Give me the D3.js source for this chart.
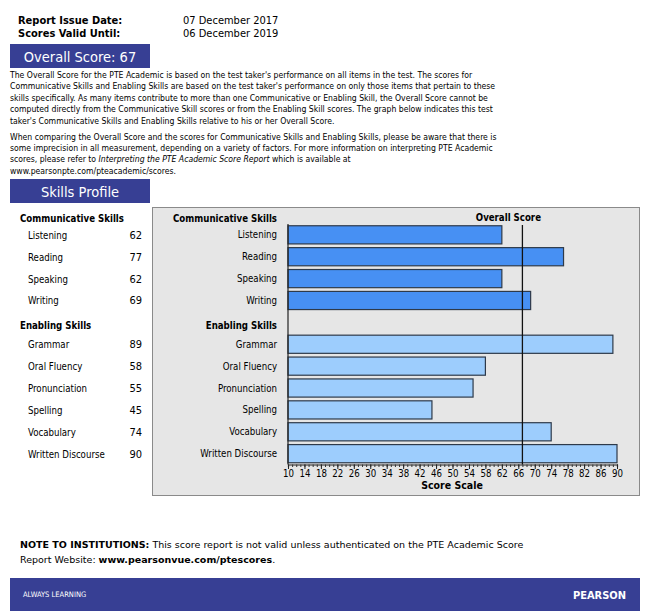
<!DOCTYPE html>
<html>
<head>
<meta charset="utf-8">
<script src="https://cdn.jsdelivr.net/npm/d3@7"></script>
<style>
  body { margin: 0; background: #fff; }
  svg { display: block; }
  text { font-family: "DejaVu Sans Condensed", "DejaVu Sans", sans-serif; fill: #000; }
  .verd { font-family: "DejaVu Sans", Verdana, sans-serif; }
</style>
</head>
<body>
<svg id="page" width="645" height="611"></svg>
<script>
// ---- data ----
var commSkills = ["Listening", "Reading", "Speaking", "Writing"];
var commScores = [62, 77, 62, 69];
var enabSkills = ["Grammar", "Oral Fluency", "Pronunciation", "Spelling", "Vocabulary", "Written Discourse"];
var enabScores = [89, 58, 55, 45, 74, 90];
var overallScore = 67;
var scaleTicks = [10, 14, 18, 22, 26, 30, 34, 38, 42, 46, 50, 54, 58, 62, 66, 70, 74, 78, 82, 86, 90];

var para1 = [
    "The Overall Score for the PTE Academic is based on the test taker's performance on all items in the test.  The scores for",
    "Communicative Skills and Enabling Skills are based on the test taker's performance on only those items that pertain to these",
    "skills specifically.  As many items contribute to more than one Communicative or Enabling Skill, the Overall Score cannot be",
    "computed directly from the Communicative Skill scores or from the Enabling Skill scores.  The graph below indicates this test",
    "taker's Communicative Skills and Enabling Skills relative to his or her Overall Score."
];
var para2 = [
    "When comparing the Overall Score and the scores for Communicative Skills and Enabling Skills, please be aware that there is",
    "some imprecision in all measurement, depending on a variety of factors.  For more information on interpreting PTE Academic",
    null,
    "www.pearsonpte.com/pteacademic/scores."
];

var navy = "#373f94";
var svg = d3.select("#page");

// ---- header ----
svg.append("text").attr("x", 18).attr("y", 24)
    .attr("font-size", "11px").attr("font-weight", "bold").text("Report Issue Date:");
svg.append("text").attr("x", 18).attr("y", 37)
    .attr("font-size", "11px").attr("font-weight", "bold").text("Scores Valid Until:");
svg.append("text").attr("x", 183).attr("y", 24)
    .attr("font-size", "11px").text("07 December 2017");
svg.append("text").attr("x", 183).attr("y", 37)
    .attr("font-size", "11px").text("06 December 2019");

function titleBox(y, label) {
    svg.append("rect").attr("x", 10).attr("y", y).attr("width", 140).attr("height", 24).attr("fill", navy);
    svg.append("text").attr("x", 80).attr("y", y + 18).attr("text-anchor", "middle")
        .attr("font-size", "14.5px").style("fill", "#fff").text(label);
}
titleBox(44, "Overall Score: " + overallScore);
titleBox(179, "Skills Profile");

// ---- paragraphs ----
var pg = svg.append("g").attr("font-size", "8.6px");
para1.forEach(function (s, i) {
    pg.append("text").attr("x", 10).attr("y", 78 + i * 11.4).text(s);
});
para2.forEach(function (s, i) {
    var t = pg.append("text").attr("x", 10).attr("y", 140 + i * 11.2);
    if (s) t.text(s);
    else {
        t.append("tspan").text("scores, please refer to ");
        t.append("tspan").attr("font-style", "italic").text("Interpreting the PTE Academic Score Report");
        t.append("tspan").text(" which is available at");
    }
});

// ---- rows ----
var rows = commSkills.map(function (d, i) { return { name: d, score: commScores[i], comm: true }; })
    .concat([{ name: "__gap", score: null }])
    .concat(enabSkills.map(function (d, i) { return { name: d, score: enabScores[i], comm: false }; }));

var y = d3.scaleBand().domain(rows.map(function (d) { return d.name; }))
    .range([224, 464.5]).paddingInner(0.17).paddingOuter(0.08);
var x = d3.scaleLinear().domain([10, 90]).range([288, 617]);

var data = rows.filter(function (d) { return d.score != null; });
function rowMid(d) { return y(d.name) + y.bandwidth() / 2; }

// ---- left score table ----
var lt = svg.append("g").attr("font-size", "9.6px");
lt.append("text").attr("x", 20).attr("y", 222).attr("font-weight", "bold").text("Communicative Skills");
lt.append("text").attr("x", 20).attr("y", 329).attr("font-weight", "bold").text("Enabling Skills");
lt.selectAll("text.lname").data(data).enter().append("text").attr("class", "lname")
    .attr("x", 28).attr("y", function (d) { return rowMid(d) + 4; })
    .text(function (d) { return d.name; });
lt.selectAll("text.lval").data(data).enter().append("text").attr("class", "lval")
    .attr("x", 142).attr("y", function (d) { return rowMid(d) + 4; })
    .attr("text-anchor", "end").attr("font-family", "'Liberation Sans', Arial, sans-serif")
    .attr("font-size", "11px")
    .text(function (d) { return d.score; });

// ---- chart panel ----
svg.append("rect").attr("x", 152.5).attr("y", 207.5).attr("width", 487).attr("height", 288)
    .attr("fill", "#e6e6e6").attr("stroke", "#8a8a8a");

var ch = svg.append("g").attr("font-size", "9.6px");
ch.append("text").attr("x", 277).attr("y", 222).attr("text-anchor", "end").attr("font-weight", "bold")
    .text("Communicative Skills");
ch.append("text").attr("x", 277).attr("y", 329).attr("text-anchor", "end").attr("font-weight", "bold")
    .text("Enabling Skills");
ch.selectAll("text.cname").data(data).enter().append("text").attr("class", "cname")
    .attr("x", 277).attr("y", function (d) { return rowMid(d) + 3.5; })
    .attr("text-anchor", "end").text(function (d) { return d.name; });

ch.selectAll("rect.bar").data(data).enter().append("rect").attr("class", "bar")
    .attr("x", x(10)).attr("y", function (d) { return y(d.name); })
    .attr("width", function (d) { return x(d.score) - x(10); })
    .attr("height", y.bandwidth())
    .attr("fill", function (d) { return d.comm ? "#4790f3" : "#9dcdfd"; })
    .attr("stroke", "#2e3a4a").attr("stroke-width", 1.2);

// vertical axis line
ch.append("line").attr("x1", x(10)).attr("x2", x(10)).attr("y1", 224).attr("y2", 464.5)
    .attr("stroke", "#222").attr("stroke-width", 1.2);

// x axis with minor ticks
var axisY = 464.5;
var minor = d3.range(10, 91);
ch.append("g").attr("transform", "translate(0," + axisY + ")")
    .call(d3.axisBottom(x).tickValues(minor).tickSize(2.5).tickFormat(""))
    .call(function (g) {
        g.select(".domain").attr("stroke", "#222").attr("stroke-width", 1.2);
        g.selectAll(".tick line").attr("stroke", "#333");
    });
ch.append("g").attr("transform", "translate(0," + axisY + ")")
    .call(d3.axisBottom(x).tickValues(scaleTicks).tickSize(4.5).tickPadding(1.5))
    .call(function (g) {
        g.select(".domain").remove();
        g.selectAll(".tick line").attr("stroke", "#222");
        g.selectAll(".tick text").attr("font-family", "'Liberation Sans', Arial, sans-serif")
            .attr("font-size", "9.6px").style("fill", "#000");
    });
ch.append("text").attr("x", 452).attr("y", 489).attr("text-anchor", "middle")
    .attr("font-weight", "bold").attr("font-size", "10.5px").text("Score Scale");

// overall score line
ch.append("line").attr("x1", x(overallScore)).attr("x2", x(overallScore))
    .attr("y1", 225).attr("y2", axisY).attr("stroke", "#111").attr("stroke-width", 1.3);
ch.append("text").attr("x", x(overallScore) - 14).attr("y", 221).attr("text-anchor", "middle")
    .attr("font-weight", "bold").text("Overall Score");

// ---- note ----
var note = svg.append("g").attr("font-size", "9.5px");
var n1 = note.append("text").attr("class", "verd").attr("x", 20).attr("y", 548);
n1.append("tspan").attr("font-weight", "bold").text("NOTE TO INSTITUTIONS:");
n1.append("tspan").text(" This score report is not valid unless authenticated on the PTE Academic Score");
var n2 = note.append("text").attr("class", "verd").attr("x", 20).attr("y", 563);
n2.append("tspan").text("Report Website: ");
n2.append("tspan").attr("font-weight", "bold").text("www.pearsonvue.com/ptescores");
n2.append("tspan").text(".");

// ---- footer ----
svg.append("rect").attr("x", 10).attr("y", 578).attr("width", 630).attr("height", 33).attr("fill", navy);
svg.append("text").attr("x", 23).attr("y", 597).attr("font-size", "7.5px").style("fill", "#fff")
    .text("ALWAYS LEARNING");
svg.append("text").attr("x", 626).attr("y", 599).attr("text-anchor", "end").attr("font-size", "11px")
    .attr("font-weight", "bold").style("fill", "#fff").text("PEARSON");
</script>
</body>
</html>
